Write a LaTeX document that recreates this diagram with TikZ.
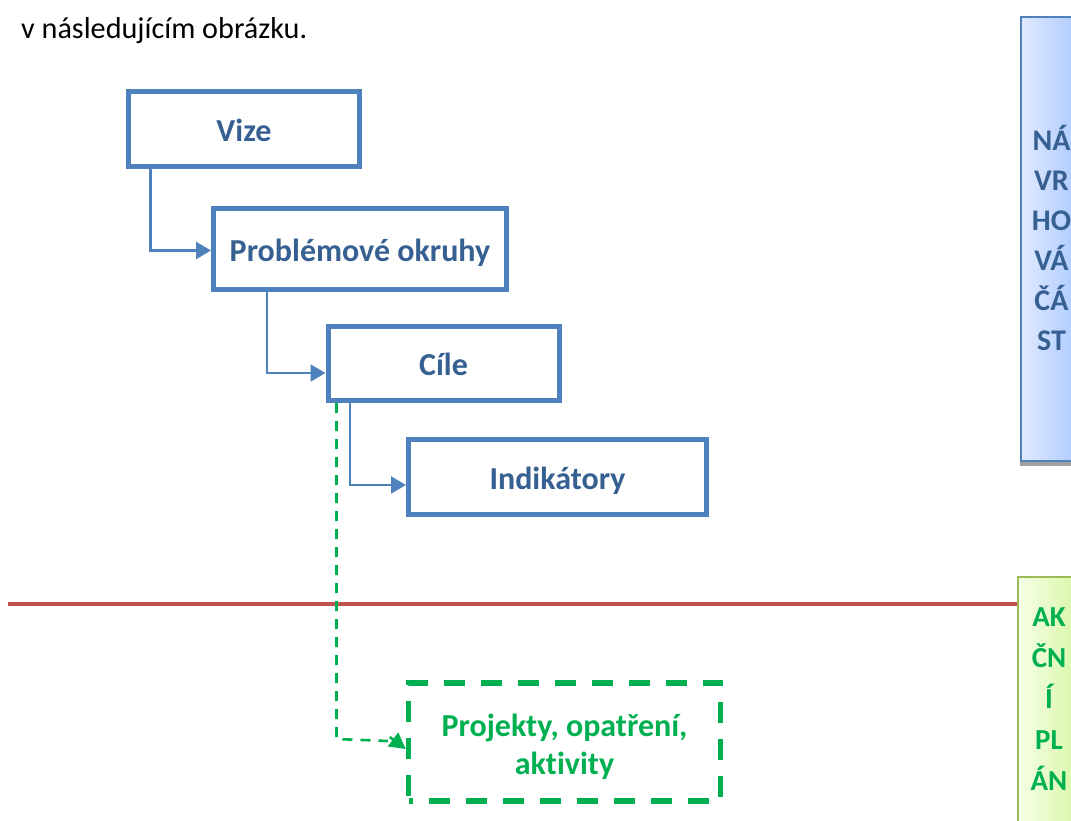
\documentclass[tikz,border=0pt]{standalone}
\usepackage{fontspec}
\setmainfont{Carlito}[Ligatures=NoCommon]
\usetikzlibrary{arrows.meta,calc}
\definecolor{boxblue}{HTML}{4F81BD}
\definecolor{txtblue}{HTML}{376092}
\definecolor{grn}{HTML}{00B050}
\definecolor{redl}{HTML}{C0504D}
\definecolor{lgreen}{HTML}{9BBB59}
\definecolor{bluea}{HTML}{E0EAFF}
\definecolor{blueb}{HTML}{B3CEFF}
\definecolor{greena}{HTML}{F6FFE8}
\definecolor{greenb}{HTML}{DCF8AE}
\definecolor{shadowgrey}{HTML}{A0A0A0}
\tikzset{
 x=1pt,y=-1pt,
 stagebox/.style={draw=boxblue,line width=5pt,fill=white,inner sep=0pt,font=\fontsize{32}{38}\selectfont\bfseries,text=txtblue,text height=24pt,text depth=0pt},
 link/.style={draw=boxblue,line width=2.3pt,-{Triangle[length=15pt,width=17pt]}},
 dashline/.style={draw=grn,line width=2.6pt,dash pattern=on 10pt off 8pt},
 dashtip/.style={draw=grn,line width=2.6pt,-{Triangle[length=16pt,width=17pt]}},
 sidelabel/.style={inner sep=0pt,align=center,font=\fontsize{29}{40.5}\selectfont\bfseries},
}
\begin{document}
\begin{tikzpicture}
\useasboundingbox (0,0) rectangle (1071,820);
\clip (0,0) rectangle (1071,820);
\node[anchor=base west,inner sep=0pt,font=\fontsize{30.2}{36}\selectfont] (intro) at (21,38) {v následujícím obrázku.};
% red divider
\coordinate (redL) at (8,604.3);
\coordinate (redR) at (1018,604.3);
\draw[redl,line width=4.2pt] (redL) -- (redR);
% boxes
\node[stagebox,minimum width=231pt,minimum height=75pt] (vize) at (244,129) {Vize};
\node[stagebox,minimum width=293pt,minimum height=81pt] (okruhy) at (360,249) {Problémové okruhy};
\node[stagebox,minimum width=231pt,minimum height=74pt] (cile) at (443.5,363.5) {Cíle};
\node[stagebox,minimum width=298pt,minimum height=75pt] (indik) at (557.5,477) {Indikátory};
\node[draw=grn,line width=5.5pt,dash pattern=on 21pt off 16pt,dash phase=17pt,minimum width=312pt,minimum height=118pt,inner sep=0pt,align=center,text=grn,font=\fontsize{32}{38}\selectfont\bfseries] (proj) at (564.5,742) {\rule{0pt}{32pt}Projekty, opatření,\\aktivity};
% connectors
\coordinate (v1) at ($(vize.south west)+(24.5,0)$);
\coordinate (o1) at ($(okruhy.south west)+(56,0)$);
\coordinate (c1) at ($(cile.south west)+(24.5,0)$);
\coordinate (c2) at ($(cile.south west)+(11,0)$);
\draw[link] (v1) |- ($(okruhy.west)+(0,1.5)$);
\draw[link] (o1) |- ($(cile.west)+(0,9.5)$);
\draw[link] (c1) |- ($(indik.west)+(0,8)$);
\coordinate (d1) at (c2 |- 0,739);
\coordinate (d2) at (388,741);
\draw[dashline] (c2) -- (d1) -- (d2);
\draw[dashtip] ($(proj.west)+(-16,-5)$) -- ($(proj.west)+(0,7)$);
% side boxes
\shade[left color=bluea,right color=blueb] (1021,17) rectangle (1071,461);
\fill[shadowgrey] (1020,461) rectangle (1071,465.5);
\draw[boxblue,line width=2.4pt] (1021,17) rectangle (1090,461);
\node[sidelabel,text=txtblue,font=\fontsize{30}{40}\selectfont\bfseries] (navrh) at (1051.5,238) {NÁ\\VR\\HO\\VÁ\\ČÁ\\ST};
\shade[left color=greena,right color=greenb] (1018,577) rectangle (1071,830);
\draw[lgreen,line width=2.4pt] (1018,577) rectangle (1090,840);
\node[sidelabel,text=grn,font=\fontsize{29}{41}\selectfont\bfseries] (akcni) at (1049,699.5) {AK\\ČN\\Í\\PL\\ÁN};
\end{tikzpicture}
\end{document}
